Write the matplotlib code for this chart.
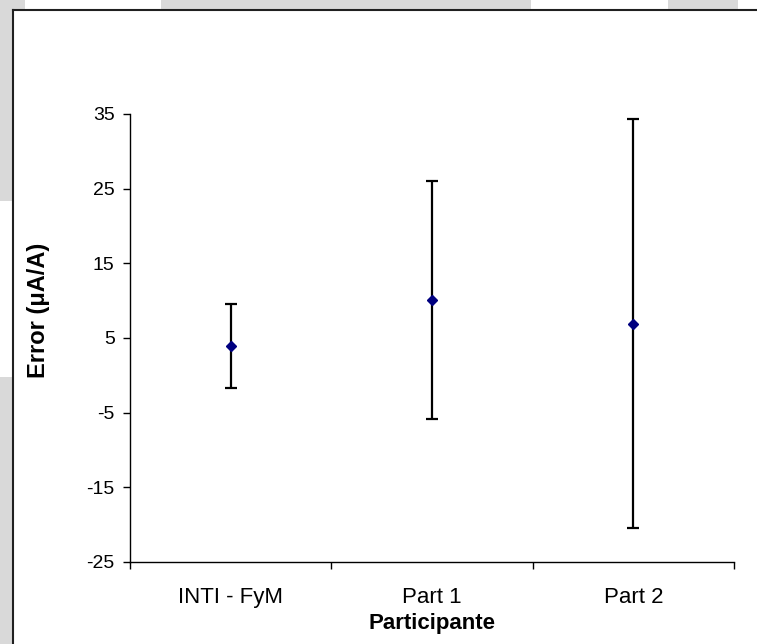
import matplotlib
matplotlib.use("Agg")
import matplotlib.pyplot as plt
from matplotlib.patches import Rectangle
from matplotlib.lines import Line2D

plt.rcParams['font.family'] = ['Liberation Sans', 'DejaVu Sans']

categories = ["INTI - FyM", "Part 1", "Part 2"]
values = [3.9, 10.1, 6.9]
errors = [5.6, 15.9, 27.4]
yticks = [-25, -15, -5, 5, 15, 25, 35]

W, H = 757, 644
fig = plt.figure(figsize=(W / 100, H / 100), dpi=100)
fig.patch.set_facecolor('white')

grey = '#d9d9d9'
def rect_px(x0, y0, x1, y1, **kw):
    fig.add_artist(Rectangle((x0 / W, 1 - y1 / H), (x1 - x0) / W, (y1 - y0) / H,
                             transform=fig.transFigure, **kw))

# background fragments outside the chart frame
rect_px(0, 0, 25, 9, color=grey, lw=0, zorder=0)
rect_px(161, 0, 531, 9, color=grey, lw=0, zorder=0)
rect_px(668, 0, 738, 9, color=grey, lw=0, zorder=0)
rect_px(0, 0, 12, 201, color=grey, lw=0, zorder=0)
rect_px(0, 377, 12, 644, color=grey, lw=0, zorder=0)
# chart frame
fig.add_artist(Line2D([12.5 / W, 12.5 / W], [1 - 9.5 / H, 0], transform=fig.transFigure,
                      color='#202020', lw=1.5))
fig.add_artist(Line2D([12.5 / W, 1], [1 - 9.5 / H, 1 - 9.5 / H], transform=fig.transFigure,
                      color='#202020', lw=1.5))

ax = fig.add_axes([130 / W, (H - 562) / H, (734 - 130) / W, (562 - 114) / H])
x = list(range(len(categories)))
ax.errorbar(x, values, yerr=errors, fmt='D', color='#000080', ms=5,
            ecolor='black', elinewidth=1.6, capsize=4.5, capthick=1.6, zorder=3)

ax.set_xlim(-0.5, len(categories) - 0.5)
ax.set_ylim(yticks[0], yticks[-1])
ax.set_yticks(yticks)
ax.set_yticklabels([str(t) for t in yticks])
ax.set_xticks([i - 0.5 for i in range(len(categories) + 1)])
ax.set_xticklabels([])
ax.set_xticks(x, minor=True)
ax.set_xticklabels(categories, minor=True)
ax.tick_params(axis='x', which='minor', length=0, pad=18, labelsize=16)
ax.tick_params(axis='x', which='major', length=5, width=1, direction='out')
ax.tick_params(axis='y', length=5, width=1, direction='out', labelsize=14, pad=6)

for s in ['top', 'right']:
    ax.spines[s].set_visible(False)
for s in ['left', 'bottom']:
    ax.spines[s].set_linewidth(1)
    ax.spines[s].set_color('black')

ax.set_ylabel("Error (μA/A)", fontsize=17, fontweight='bold')
ax.set_xlabel("Participante", fontsize=16, fontweight='bold')
ax.yaxis.set_label_coords(-0.152, 0.5625)
ax.xaxis.set_label_coords(0.5, -0.138)
ax.xaxis.label.set_va('center')
ax.yaxis.label.set_va('center')

fig.savefig("out.png", dpi=100)
